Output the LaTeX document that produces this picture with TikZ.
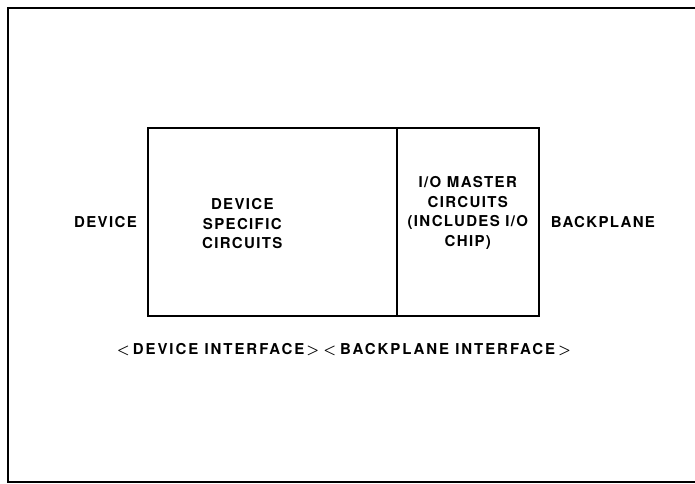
\documentclass[tikz,border=0pt]{standalone}
\usepackage{fontspec}
\setmainfont{TeX Gyre Heros}[LetterSpace=9]
\usetikzlibrary{positioning, calc}

\newcommand{\lt}{{\boldmath$<$}}
\newcommand{\gt}{{\boldmath$>$}}

\begin{document}
\begin{tikzpicture}[x=1pt, y=-1pt,
    font=\bfseries\fontsize{15}{19.5}\selectfont,
    block/.style={draw, line width=1.6pt, minimum height=188pt, inner sep=0pt, align=center},
    lbl/.style={inner sep=0pt, align=center}]
    \useasboundingbox (0,0) rectangle (695,483);

    % Outer frame (right side runs off the page)
    \draw[line width=2pt] (700,8) -- (8,8) -- (8,482) -- (700,482);

    % Blocks
    \node[block, minimum width=249pt, anchor=north west] (devblk) at (147,127) {};
    \node[block, minimum width=142pt, anchor=north west] (iomblk) at (396,127) {};

    % Block texts
    \node[lbl] (devtxt) at ($(devblk.center)+(-30,2)$) {DEVICE\\SPECIFIC\\CIRCUITS};
    \node[lbl] (iomtxt) at ($(iomblk.center)+(0,-9)$) {I/O MASTER\\CIRCUITS\\(INCLUDES I/O\\CHIP)};

    % Side labels
    \node[lbl, left=10pt of devblk] (device) {DEVICE};
    \node[lbl, right=11pt of iomblk] (backplane) {BACKPLANE};

    % Interface line
    \node[lbl, font=\bfseries\fontsize{15}{19.5}\selectfont\addfontfeature{LetterSpace=13}] (iface) at (344,350)
        {\lt\hspace{3pt}DEVICE INTERFACE\hspace{2pt}\gt\hspace{4pt}\lt\hspace{4pt}BACKPLANE INTERFACE\hspace{3pt}\gt};
\end{tikzpicture}
\end{document}
